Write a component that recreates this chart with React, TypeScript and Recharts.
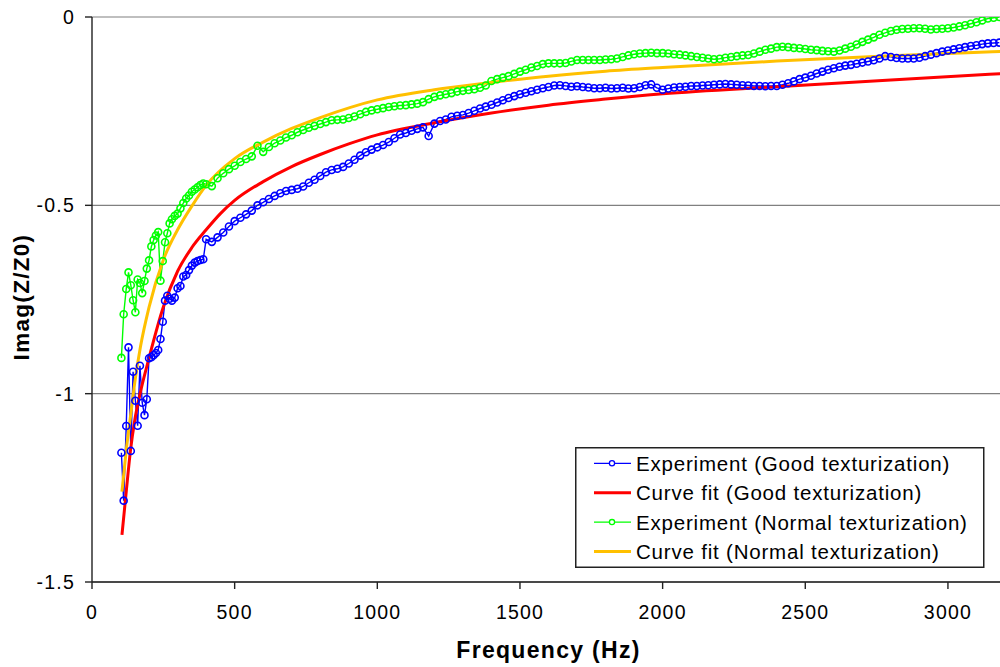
import { CartesianGrid, Legend, Line, LineChart, XAxis, YAxis } from "recharts";

const FONT = '"Liberation Sans", Arial, sans-serif';

// first measured points (both runs share these frequencies)
const lowFreq = [
  103, 111, 120, 128, 136, 144, 152, 160, 168, 176, 184, 192, 200, 208, 216, 224, 232,
  240, 248, 256, 264, 272, 280, 290, 300, 310, 320, 330, 340, 350, 360, 370, 380, 390, 400,
];
const goodLow = [
  -1.157, -1.284, -1.086, -0.877, -1.152, -0.942, -1.019, -1.085, -0.926, -1.024, -1.057, -1.015,
  -0.906, -0.903, -0.898, -0.892, -0.884, -0.855, -0.809, -0.753, -0.74, -0.748, -0.753, -0.745,
  -0.72, -0.714, -0.689, -0.685, -0.672, -0.66, -0.652, -0.648, -0.645, -0.643, -0.59,
];
const normalLow = [
  -0.905, -0.789, -0.722, -0.678, -0.712, -0.752, -0.784, -0.697, -0.706, -0.733, -0.701, -0.668,
  -0.646, -0.609, -0.592, -0.58, -0.571, -0.7, -0.648, -0.598, -0.574, -0.548, -0.537, -0.528,
  -0.522, -0.508, -0.494, -0.482, -0.474, -0.464, -0.458, -0.452, -0.446, -0.442, -0.444,
];

const gridStart = 420;
const gridStep = 20;
const goodHigh = [
  -0.597, -0.585, -0.572, -0.556, -0.542, -0.533, -0.524, -0.514, -0.5, -0.492,
  -0.483, -0.475, -0.468, -0.462, -0.459, -0.456, -0.45, -0.44, -0.432, -0.422,
  -0.412, -0.406, -0.403, -0.398, -0.389, -0.379, -0.368, -0.359, -0.352, -0.346,
  -0.34, -0.332, -0.322, -0.312, -0.308, -0.302, -0.297, -0.293, -0.316, -0.283,
  -0.276, -0.272, -0.265, -0.262, -0.26, -0.255, -0.249, -0.243, -0.238, -0.233,
  -0.227, -0.221, -0.215, -0.21, -0.205, -0.201, -0.197, -0.193, -0.189, -0.186,
  -0.182, -0.181, -0.183, -0.185, -0.184, -0.186, -0.187, -0.189, -0.189, -0.188,
  -0.19, -0.189, -0.188, -0.19, -0.189, -0.186, -0.181, -0.179, -0.188, -0.193,
  -0.19, -0.187, -0.186, -0.185, -0.183, -0.183, -0.182, -0.181, -0.18, -0.179,
  -0.178, -0.179, -0.18, -0.181, -0.182, -0.183, -0.183, -0.184, -0.183, -0.183,
  -0.18, -0.176, -0.171, -0.165, -0.161, -0.156, -0.15, -0.145, -0.14, -0.136,
  -0.132, -0.129, -0.127, -0.124, -0.121, -0.118, -0.115, -0.11, -0.104, -0.106,
  -0.109, -0.11, -0.11, -0.11, -0.108, -0.104, -0.1, -0.096, -0.092, -0.089,
  -0.086, -0.083, -0.08, -0.077, -0.075, -0.072, -0.07, -0.069, -0.068,
];
const normalHigh = [
  -0.449, -0.428, -0.415, -0.404, -0.395, -0.385, -0.377, -0.37, -0.342, -0.358,
  -0.345, -0.335, -0.328, -0.32, -0.314, -0.306, -0.3, -0.294, -0.289, -0.284,
  -0.279, -0.274, -0.273, -0.272, -0.268, -0.264, -0.258, -0.252, -0.248, -0.245,
  -0.242, -0.239, -0.237, -0.235, -0.234, -0.232, -0.23, -0.226, -0.218, -0.212,
  -0.208, -0.205, -0.202, -0.198, -0.196, -0.194, -0.192, -0.188, -0.182, -0.17,
  -0.165, -0.161, -0.157, -0.151, -0.145, -0.14, -0.134, -0.13, -0.125, -0.123,
  -0.123, -0.123, -0.122, -0.118, -0.114, -0.114, -0.114, -0.114, -0.114, -0.113,
  -0.112, -0.11, -0.106, -0.102, -0.099, -0.097, -0.096, -0.095, -0.096, -0.096,
  -0.097, -0.099, -0.1, -0.102, -0.104, -0.106, -0.108, -0.11, -0.112, -0.111,
  -0.108, -0.106, -0.104, -0.102, -0.101, -0.097, -0.092, -0.087, -0.084, -0.08,
  -0.079, -0.08, -0.082, -0.083, -0.085, -0.087, -0.088, -0.09, -0.091, -0.092,
  -0.089, -0.084, -0.079, -0.073, -0.066, -0.06, -0.054, -0.047, -0.042, -0.037,
  -0.034, -0.032, -0.031, -0.03, -0.03, -0.031, -0.033, -0.032, -0.031, -0.03,
  -0.028, -0.025, -0.022, -0.018, -0.014, -0.009, -0.004, -0.002, 0,
];

// fitted curves, read at a few frequencies
const fitGoodFreq = [105, 120, 135, 150, 170, 200, 250, 300, 350, 400, 450, 500, 600, 700, 800, 900, 1000, 1200, 1400, 1600, 1800, 2000, 2400, 2800, 3200];
const fitGood = [-1.375, -1.26, -1.15, -1.07, -0.995, -0.905, -0.77, -0.675, -0.612, -0.565, -0.522, -0.487, -0.437, -0.397, -0.365, -0.337, -0.313, -0.281, -0.255, -0.234, -0.218, -0.204, -0.185, -0.167, -0.15];
const fitNormalFreq = [105, 120, 135, 150, 170, 200, 250, 300, 350, 400, 500, 600, 700, 800, 1000, 1200, 1400, 1600, 1800, 2000, 2400, 2800, 3200];
const fitNormal = [-1.26, -1.15, -1.06, -0.97, -0.875, -0.77, -0.645, -0.565, -0.502, -0.447, -0.376, -0.332, -0.296, -0.267, -0.22, -0.193, -0.174, -0.157, -0.144, -0.134, -0.117, -0.103, -0.091];

const xTicks = [0, 500, 1000, 1500, 2000, 2500, 3000];
const yTicks = [-1.5, -1, -0.5, 0];

const names = [
  "Experiment (Good texturization)",
  "Curve fit (Good texturization)",
  "Experiment (Normal texturization)",
  "Curve fit (Normal texturization)",
];

const gridFreq = goodHigh.map((_, i) => gridStart + i * gridStep);
const rows = (freqs: number[], vals: number[]) => vals.map((v, i) => ({ f: freqs[i], v }));

const goodRows = [...rows(lowFreq, goodLow), ...rows(gridFreq, goodHigh)];
const normalRows = [...rows(lowFreq, normalLow), ...rows(gridFreq, normalHigh)];
const fitGoodRows = rows(fitGoodFreq, fitGood);
const fitNormalRows = rows(fitNormalFreq, fitNormal);

const tickStyle = { fill: "#000", fontSize: 19.5, fontFamily: FONT, letterSpacing: 1.2 };

function LegendBox(props: any) {
  const payload = props.payload || [];
  return (
    <svg width={410} height={121} style={{ display: "block" }}>
      <rect x={0.75} y={0.75} width={408} height={119.5} fill="#fff" stroke="#222" strokeWidth={1.5} />
      {names.map((n, i) => {
        const entry = payload.find((p: any) => p.value === n);
        const color = entry ? entry.color : "#000";
        const cy = 16.3 + i * 29.4;
        const marker = n.startsWith("Experiment");
        return (
          <g key={n}>
            <line x1={19} x2={56} y1={cy} y2={cy} stroke={color} strokeWidth={marker ? 1.3 : 3} />
            {marker && <circle cx={37} cy={cy} r={2.6} fill="#fff" stroke={color} strokeWidth={1.3} />}
            <text
              x={61}
              y={cy}
              dominantBaseline="central"
              fontFamily={FONT}
              fontSize={20.5}
              letterSpacing={0.8}
              fill="#000"
            >
              {n}
            </text>
          </g>
        );
      })}
    </svg>
  );
}

export default function App() {
  return (
    <div
      style={{
        position: "absolute",
        left: 0,
        top: 0,
        width: 1000,
        height: 667,
        overflow: "hidden",
        background: "#fff",
      }}
    >
      <LineChart width={1010} height={667} margin={{ top: 17, right: 5, bottom: 0, left: 0 }}>
        <CartesianGrid vertical={false} stroke="#808080" strokeWidth={1.2} />
        <XAxis
          type="number"
          dataKey="f"
          domain={[0, 3200]}
          ticks={xTicks}
          allowDataOverflow
          height={85}
          stroke="#222"
          strokeWidth={1.4}
          tickSize={7}
          tickMargin={16}
          tick={tickStyle}
          label={{
            content: (p: any) => (
              <text
                x={p.viewBox.x + p.viewBox.width / 2}
                y={p.viewBox.y + 76.3}
                textAnchor="middle"
                fontFamily={FONT}
                fontWeight="bold"
                fontSize={23}
                letterSpacing={1.3}
                fill="#000"
              >
                Frequency (Hz)
              </text>
            ),
          }}
        />
        <YAxis
          type="number"
          domain={[-1.5, 0]}
          ticks={yTicks}
          allowDataOverflow
          width={92}
          stroke="#222"
          strokeWidth={1.4}
          tickSize={7}
          tickMargin={10}
          tick={tickStyle}
          label={{
            content: () => (
              <text
                x={28.5}
                y={297}
                transform="rotate(-90, 28.5, 297)"
                textAnchor="middle"
                fontFamily={FONT}
                fontWeight="bold"
                fontSize={22.5}
                letterSpacing={1.3}
                fill="#000"
              >
                Imag(Z/Z0)
              </text>
            ),
          }}
        />
        <Line
          data={goodRows}
          dataKey="v"
          name={names[0]}
          type="linear"
          stroke="#0000ff"
          strokeWidth={1.4}
          dot={{ r: 3.5, stroke: "#0000ff", strokeWidth: 1.6, fill: "none" }}
          isAnimationActive={false}
        />
        <Line
          data={fitGoodRows}
          dataKey="v"
          name={names[1]}
          type="monotone"
          stroke="#ff0000"
          strokeWidth={3}
          dot={false}
          isAnimationActive={false}
        />
        <Line
          data={normalRows}
          dataKey="v"
          name={names[2]}
          type="linear"
          stroke="#00ff00"
          strokeWidth={1.4}
          dot={{ r: 3.5, stroke: "#00ff00", strokeWidth: 1.6, fill: "none" }}
          isAnimationActive={false}
        />
        <Line
          data={fitNormalRows}
          dataKey="v"
          name={names[3]}
          type="monotone"
          stroke="#ffc000"
          strokeWidth={3}
          dot={false}
          isAnimationActive={false}
        />
        <Legend
          layout="vertical"
          align="center"
          verticalAlign="middle"
          content={LegendBox}
          wrapperStyle={{ position: "absolute", left: 575, top: 447, right: "auto", bottom: "auto", width: 410, height: 121 }}
        />
      </LineChart>
    </div>
  );
}
